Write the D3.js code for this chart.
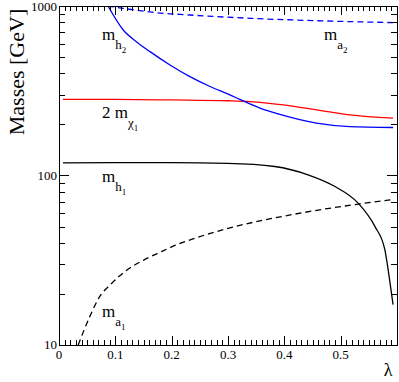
<!DOCTYPE html>
<html>
<head>
<meta charset="UTF-8">
<script src="https://d3js.org/d3.v7.min.js"></script>
<style>
  body { margin: 0; background: #fff; }
  svg text { font-family: "Liberation Serif", "DejaVu Serif", serif; fill: #000; }
</style>
</head>
<body>
<div class="chart"></div>
<script>
// data (lambda, mass in GeV)
const lamH1 = [0.007, 0.1, 0.2, 0.3, 0.383, 0.442, 0.49, 0.5305, 0.5607, 0.5784, 0.586, 0.593];
const massH1 = [118.8, 119, 119, 118, 113, 101, 86.1, 69.0, 50.1, 36.5, 25.4, 17.3];
const lamA1 = [0.034, 0.055, 0.0727, 0.0905, 0.12, 0.1496, 0.179, 0.2088, 0.238, 0.2975, 0.413, 0.531, 0.590];
const massA1 = [10, 14.8, 19.4, 22.6, 27.6, 31.6, 35.2, 39.0, 42.3, 48.5, 58.7, 67.8, 71.9];
const lamH2 = [0.087, 0.114, 0.138, 0.1615, 0.197, 0.2324, 0.268, 0.3034, 0.321, 0.3566, 0.389, 0.457, 0.516, 0.593];
const massH2 = [1000, 722, 614, 538, 449, 383, 335, 299, 281, 250, 231, 204, 194.5, 192];
const lamA2 = [0.087, 0.114, 0.173, 0.232, 0.339, 0.457, 0.593];
const massA2 = [1000, 969, 913, 885, 846, 819, 798];
const lamChi = [0.007, 0.1, 0.2, 0.3, 0.339, 0.398, 0.457, 0.516, 0.593];
const massChi = [281, 281, 279, 276, 273, 261, 244, 228, 218];

const xMajor = [0, 0.1, 0.2, 0.3, 0.4, 0.5];
const yMajor = [10, 100, 1000];

const W = 399, H = 382;
const mLeft = 59, mRight = 397, mTop = 6, mBottom = 345;

const svg = d3.select('.chart').append('svg').attr('width', W).attr('height', H);

const x = d3.scaleLinear().domain([0, 0.6]).range([mLeft, mRight]);
const y = d3.scaleLog().domain([10, 1000]).range([mBottom, mTop]);

const xMinor = d3.range(1, 60).filter(i => i % 10 != 0).map(i => i / 100);
const yMinor = [];
[10, 100].forEach(d => { for (let k = 2; k <= 9; k++) yMinor.push(d * k); });

svg.append('defs').append('clipPath').attr('id', 'clip')
  .append('rect').attr('x', mLeft).attr('y', mTop).attr('width', mRight - mLeft).attr('height', mBottom - mTop);

const line = d3.line().x(d => x(d[0])).y(d => y(d[1])).curve(d3.curveMonotoneX);
const series = [
  {lam: lamA1, m: massA1, color: '#000', dash: '6,4'},
  {lam: lamH1, m: massH1, color: '#000', dash: null},
  {lam: lamChi, m: massChi, color: '#ff0000', dash: null},
  {lam: lamH2, m: massH2, color: '#0000ff', dash: null},
  {lam: lamA2, m: massA2, color: '#0000ff', dash: '6,4'}
];
svg.append('g').attr('clip-path', 'url(#clip)').selectAll('path')
  .data(series).enter().append('path')
  .attr('d', s => line(s.lam.map((l, i) => [l, s.m[i]])))
  .attr('fill', 'none')
  .attr('stroke', s => s.color)
  .attr('stroke-width', 1.3)
  .attr('stroke-dasharray', s => s.dash);

svg.append('rect').attr('x', mLeft + 0.5).attr('y', mTop + 0.5).attr('width', mRight - mLeft).attr('height', mBottom - mTop)
  .attr('fill', 'none').attr('stroke', '#000').attr('stroke-width', 1);

// inward ticks on the four sides
const tk = [];
xMajor.forEach(v => { const px = Math.round(x(v)); tk.push([px, mBottom - 9, 1, 9], [px, mTop, 1, 9]); });
xMinor.forEach(v => { const px = Math.round(x(v)); tk.push([px, mBottom - 5, 1, 5], [px, mTop, 1, 5]); });
yMajor.forEach(v => { const py = Math.round(y(v)); tk.push([mLeft, py, 10, 1], [mRight - 10, py, 10, 1]); });
yMinor.forEach(v => { const py = Math.round(y(v)); tk.push([mLeft, py, 6, 1], [mRight - 6, py, 6, 1]); });
svg.append('g').selectAll('rect').data(tk).enter().append('rect')
  .attr('x', d => d[0]).attr('y', d => d[1])
  .attr('width', d => d[2]).attr('height', d => d[3])
  .attr('fill', '#000');

svg.selectAll('.xlab').data(xMajor).enter().append('text')
  .attr('class', 'xlab')
  .attr('x', d => x(d)).attr('y', mBottom + 14)
  .attr('text-anchor', 'middle').attr('font-size', 13)
  .text(d => d === 0 ? '0' : d3.format('.1f')(d));
svg.selectAll('.ylab').data(yMajor).enter().append('text')
  .attr('class', 'ylab')
  .attr('x', mLeft - 2).attr('y', d => Math.max(y(d) + 4, 11))
  .attr('text-anchor', 'end').attr('font-size', 13)
  .text(d => d);

// curve labels: m with nested subscripts
function label(xp, yp, pre, sub, subsub) {
  const t = svg.append('text').attr('x', xp).attr('y', yp).attr('font-size', 17);
  t.append('tspan').text(pre + 'm');
  t.append('tspan').attr('font-size', 13).attr('dy', 9).text(sub);
  t.append('tspan').attr('font-size', 9).attr('dy', 4).text(subsub);
}
label(102, 40, '', 'h', '2');
label(324, 40, '', 'a', '2');
label(102, 118, '2 ', 'χ', '1');
label(102, 182, '', 'h', '1');
label(102, 317, '', 'a', '1');

svg.append('text').attr('x', 388).attr('y', 376).attr('font-size', 18).attr('text-anchor', 'middle').text('λ');
svg.append('text').attr('transform', 'translate(24,72) rotate(-90)').attr('text-anchor', 'middle')
  .attr('font-size', 22).text('Masses [GeV]');
</script>
</body>
</html>
